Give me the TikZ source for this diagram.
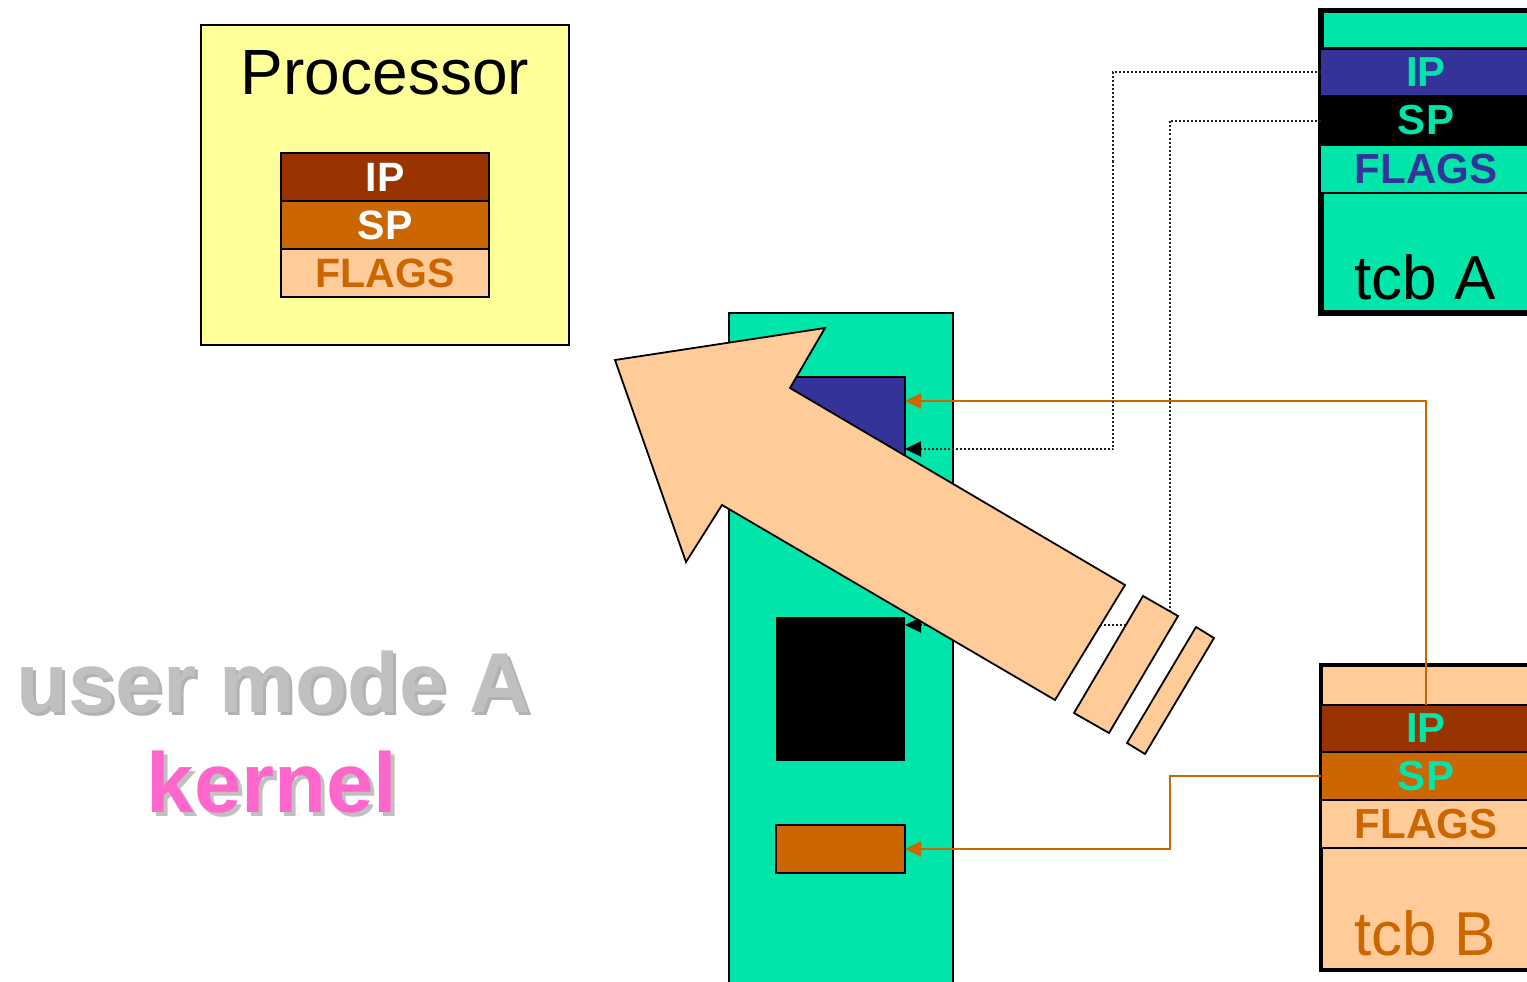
\documentclass[tikz,border=0pt]{standalone}
\usepackage{fontspec}
\setmainfont{Liberation Sans}
\usetikzlibrary{arrows.meta,calc}
\definecolor{cyellow}{HTML}{FFFF99}
\definecolor{cgreen}{HTML}{00E5AA}
\definecolor{cblue}{HTML}{333399}
\definecolor{cbrown}{HTML}{993300}
\definecolor{corange}{HTML}{CC6600}
\definecolor{cpeach}{HTML}{FFCC99}
\definecolor{cpink}{HTML}{FF66CC}
\definecolor{cgray}{HTML}{C0C0C0}
\definecolor{cshadow}{HTML}{B2B2B2}
\definecolor{cdot}{HTML}{222222}
\tikzset{
  box/.style={rectangle, inner sep=0pt, outer sep=0pt, anchor=north west},
  reg/.style={box, minimum width=208pt, minimum height=48pt, draw=black, line width=1.5pt,
    font=\bfseries\fontsize{41}{41}\selectfont},
  band/.style={box, minimum width=210pt, font=\bfseries\fontsize{42}{42}\selectfont},
  tband/.style={box, minimum width=210pt, draw=black, line width=2pt, font=\bfseries\fontsize{42}{42}\selectfont},
  big/.style={anchor=base, inner sep=0pt, font=\bfseries\fontsize{85}{85}\selectfont},
  oline/.style={draw=corange, line width=2pt, -{Triangle[length=16pt,width=15pt]}},
  dline/.style={draw=cdot, line width=2pt, dash pattern=on 2pt off 2pt,
    -{Triangle[length=16pt,width=15pt,fill=black,color=black]}},
  peachshape/.style={fill=cpeach, draw=black, line width=1.8pt, line join=miter},
}
\begin{document}
\begin{tikzpicture}[x=1pt,y=-1pt]
\useasboundingbox (0,0) rectangle (1527,982);
% processor
\node[box, fill=cyellow, draw=black, line width=1.5pt, minimum width=368pt, minimum height=320pt] (proc) at (201,25) {};
\node[anchor=base, inner sep=0pt, font=\fontsize{64}{64}\selectfont] (proct) at (385,95) {Processor};
\node[reg, fill=cbrown, text=white] (pip) at (281,153) {IP};
\node[reg, fill=corange, text=white] (psp) at (281,201) {SP};
\node[reg, fill=cpeach, text=corange] (pfl) at (281,249) {FLAGS};
% kernel stack
\node[box, fill=cgreen, draw=black, line width=2pt, minimum width=224pt, minimum height=690pt] (kst) at (729,313) {};
\node[box, fill=cblue, draw=black, line width=1.5pt, minimum width=129pt, minimum height=110pt] (kip) at (776,377) {};
\coordinate (kipA) at ($(kip.north east)+(0,24)$);
\coordinate (kipB) at ($(kip.north east)+(0,72)$);
\node[box, fill=black, minimum width=129pt, minimum height=144pt] (ksp) at (776,617) {};
\coordinate (kspA) at ($(ksp.north east)+(0,8)$);
\node[box, fill=corange, draw=black, line width=1.5pt, minimum width=129pt, minimum height=48pt] (kor) at (776,825) {};
% tcb A
\node[box, fill=black, minimum width=215pt, minimum height=308pt] (tcba) at (1318,8) {};
\node[band, fill=cgreen, minimum height=34pt] (tatop) at (1324,13) {};
\node[band, fill=cblue, text=cgreen, minimum height=45pt] (taip) at (1321,50) {IP};
\node[band, fill=black, text=cgreen, minimum height=51pt] (tasp) at (1321,95) {SP};
\node[band, fill=cgreen, text=cblue, minimum height=46pt] (tafl) at (1321,146) {FLAGS};
\node[band, fill=cgreen, minimum height=116pt] (tabot) at (1324,194) {};
\node[anchor=base, inner sep=0pt, font=\fontsize{62}{62}\selectfont] (tat) at (1425,299) {tcb A};
% tcb B
\node[box, fill=cpeach, draw=black, line width=4pt, minimum width=220pt, minimum height=305pt] (tcbb) at (1321,665) {};
\node[tband, fill=cbrown, text=cgreen, minimum height=47pt] (tbip) at (1321,705) {IP};
\node[tband, fill=corange, text=cgreen, minimum height=48pt] (tbsp) at (1321,752) {SP};
\node[tband, fill=cpeach, text=corange, minimum height=48pt] (tbfl) at (1321,800) {FLAGS};
\node[anchor=base, inner sep=0pt, font=\fontsize{62}{62}\selectfont, text=corange] (tbt) at (1425,955) {tcb B};
% connectors
\draw[oline] (tbip.north) |- (kipA);
\draw[dline] (taip.west) -- ++(-208,0) |- (kipB);
\draw[dline] (tasp.west) -- ++(-151,0) |- (kspA);
\draw[oline] (tbsp.west) -- ++(-151,0) |- (kor.east);
% big arrow and bars
\draw[peachshape] (615,360) -- (825,328) -- (790,388) -- (1125,585) -- (1055,700) -- (722,505) -- (686,562) -- cycle;
\draw[peachshape] (1143,596) -- (1178,616) -- (1109,733) -- (1074,713) -- cycle;
\draw[peachshape] (1196,627) -- (1214,638) -- (1145,754) -- (1127,743) -- cycle;
% labels
\node[big, text=cshadow] at (277,715) {user mode A};
\node[big, text=cgray] (um) at (274,712) {user mode A};
\node[big, text=cgray] at (276,816) {kernel};
\node[big, text=cpink] (kn) at (272,812) {kernel};
\end{tikzpicture}
\end{document}
